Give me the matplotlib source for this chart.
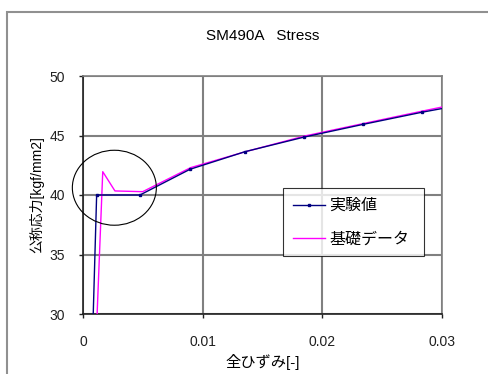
import matplotlib
matplotlib.use('Agg')
import matplotlib.pyplot as plt
from matplotlib.patches import Ellipse, Rectangle

plt.rcParams['font.family'] = ['Liberation Sans', 'Noto Sans CJK JP', 'DejaVu Sans']

# measured stress-strain (experiment)
exp_strain = [0.0, 0.00114, 0.00476, 0.00894, 0.01354, 0.01849, 0.02343, 0.0283, 0.0310]
exp_stress = [0.0, 40.0, 40.0, 42.16, 43.64, 44.87, 45.94, 46.95, 47.45]

# base data used for the model
base_strain = [0.0, 0.00165, 0.00267, 0.00499, 0.0090, 0.0135, 0.0185, 0.0235, 0.0285, 0.0310]
base_stress = [0.0, 41.96, 40.34, 40.28, 42.30, 43.62, 44.95, 46.02, 47.08, 47.60]

xticks = [0, 0.01, 0.02, 0.03]
xtick_labels = ['0', '0.01', '0.02', '0.03']
yticks = [30, 35, 40, 45, 50]

fig = plt.figure(figsize=(4.89, 3.74), dpi=100)
ax = fig.add_axes([83/489, 1-314/374, 359/489, 238/374])

ax.plot(exp_strain, exp_stress, color='#000080', lw=1.0, marker='s', ms=2.0,
        label='実験値', zorder=4)
ax.plot(base_strain, base_stress, color='#ff00ff', lw=1.0, label='基礎データ', zorder=3)

# yield region highlight
ax.add_patch(Ellipse((0.00262, 40.61), 0.00702, 6.3, fill=False, ec='black', lw=0.8, zorder=5,
                     clip_on=False))

ax.set_xlim(0, 0.03)
ax.set_ylim(30, 50)
ax.set_xticks(xticks)
ax.set_xticklabels(xtick_labels)
ax.set_yticks(yticks)
ax.grid(True, color='#808080', lw=1.5)
ax.set_axisbelow(True)
for side in ['top', 'right']:
    ax.spines[side].set_color('#808080')
    ax.spines[side].set_linewidth(1.2)
for side in ['left', 'bottom']:
    ax.spines[side].set_color('#202020')
    ax.spines[side].set_linewidth(1.2)
ax.tick_params(direction='out', length=3, width=1, labelsize=10, colors='#202020', pad=10)
ax.tick_params(axis='x', pad=12)

ax.set_title('SM490A   Stress', fontsize=11, pad=26)
ax.set_xlabel('全ひずみ[-]', fontsize=11, labelpad=4)
ax.set_ylabel('公称応力[kgf/mm2]', fontsize=10, labelpad=4)

leg = ax.legend(loc='upper left', bbox_to_anchor=((282.7-83)/359, (314-188.3)/238, 141/359, 0),
                mode='expand', fontsize=11.5, frameon=True, fancybox=False, borderpad=0.62,
                labelspacing=1.15, handlelength=2.0, handletextpad=0.3, borderaxespad=0)
leg.get_frame().set_edgecolor('black')
leg.get_frame().set_linewidth(0.8)

# outer chart border
fig.add_artist(Rectangle((7/489, -0.1), 1.2, 1 - 12/374 + 0.1, transform=fig.transFigure,
                         fill=False, ec='#909090', lw=1.5))

fig.savefig('out.png', dpi=100)
